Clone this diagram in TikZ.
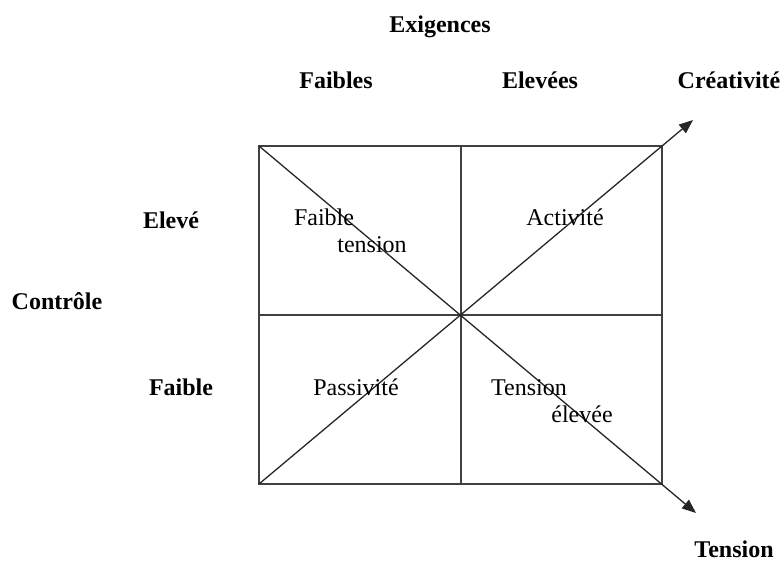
\documentclass[tikz,border=0pt]{standalone}
\usepackage{fontspec}
\setmainfont{Liberation Serif}
\usetikzlibrary{arrows.meta}

\begin{document}
\begin{tikzpicture}[
		x=1pt,y=-1pt,
		>={Triangle[length=14pt,width=11pt]},
		axislabel/.style={font=\fontsize{24}{28}\selectfont\bfseries,anchor=base,inner sep=0pt},
		quadlabel/.style={font=\fontsize{24}{28}\selectfont,anchor=base,inner sep=0pt},
		grid/.style     ={draw=black!75,line width=1.3pt},
		link/.style     ={draw=black!85,line width=1.3pt,->}
		]

		\useasboundingbox (0,0) rectangle (784,565);

		% =====================================================
		% Demand / control grid with two diagonals
		% =====================================================

		% ---- corners and middle of the grid ----
		\coordinate (tl) at (259,146);
		\coordinate (tr) at (662,146);
		\coordinate (bl) at (259,484);
		\coordinate (br) at (662,484);
		\coordinate (tm) at (461,146);
		\coordinate (bm) at (461,484);
		\coordinate (lm) at (259,315);
		\coordinate (rm) at (662,315);

		% ---- arrow ends of the diagonals ----
		\coordinate (crea) at (693,120);
		\coordinate (tens) at (696,513);

		% ---- grid ----
		\draw[grid] (tl) rectangle (br);
		\draw[grid] (tm) -- (bm);
		\draw[grid] (lm) -- (rm);

		% ---- diagonals ----
		\draw[link] (bl) -- (crea);
		\draw[link] (tl) -- (tens);

		% ---- axis labels ----
		\node[axislabel] (exig)    at (440,32)  {Exigences};
		\node[axislabel] (faibles) at (336,88)  {Faibles};
		\node[axislabel] (elevees) at (540,88)  {Elevées};
		\node[axislabel] (creat)   at (729,88)  {Créativité};
		\node[axislabel] (eleve)   at (171,228) {Elevé};
		\node[axislabel] (control) at (57,309)  {Contrôle};
		\node[axislabel] (faible)  at (181,395) {Faible};
		\node[axislabel] (tension) at (734,557) {Tension};

		% ---- quadrant labels ----
		\node[quadlabel] (ft1)  at (324,225) {Faible};
		\node[quadlabel] (ft2)  at (372,252) {tension};
		\node[quadlabel] (act)  at (565,225) {Activité};
		\node[quadlabel] (pass) at (356,395) {Passivité};
		\node[quadlabel] (te1)  at (529,395) {Tension};
		\node[quadlabel] (te2)  at (582,422) {élevée};

	\end{tikzpicture}
\end{document}
